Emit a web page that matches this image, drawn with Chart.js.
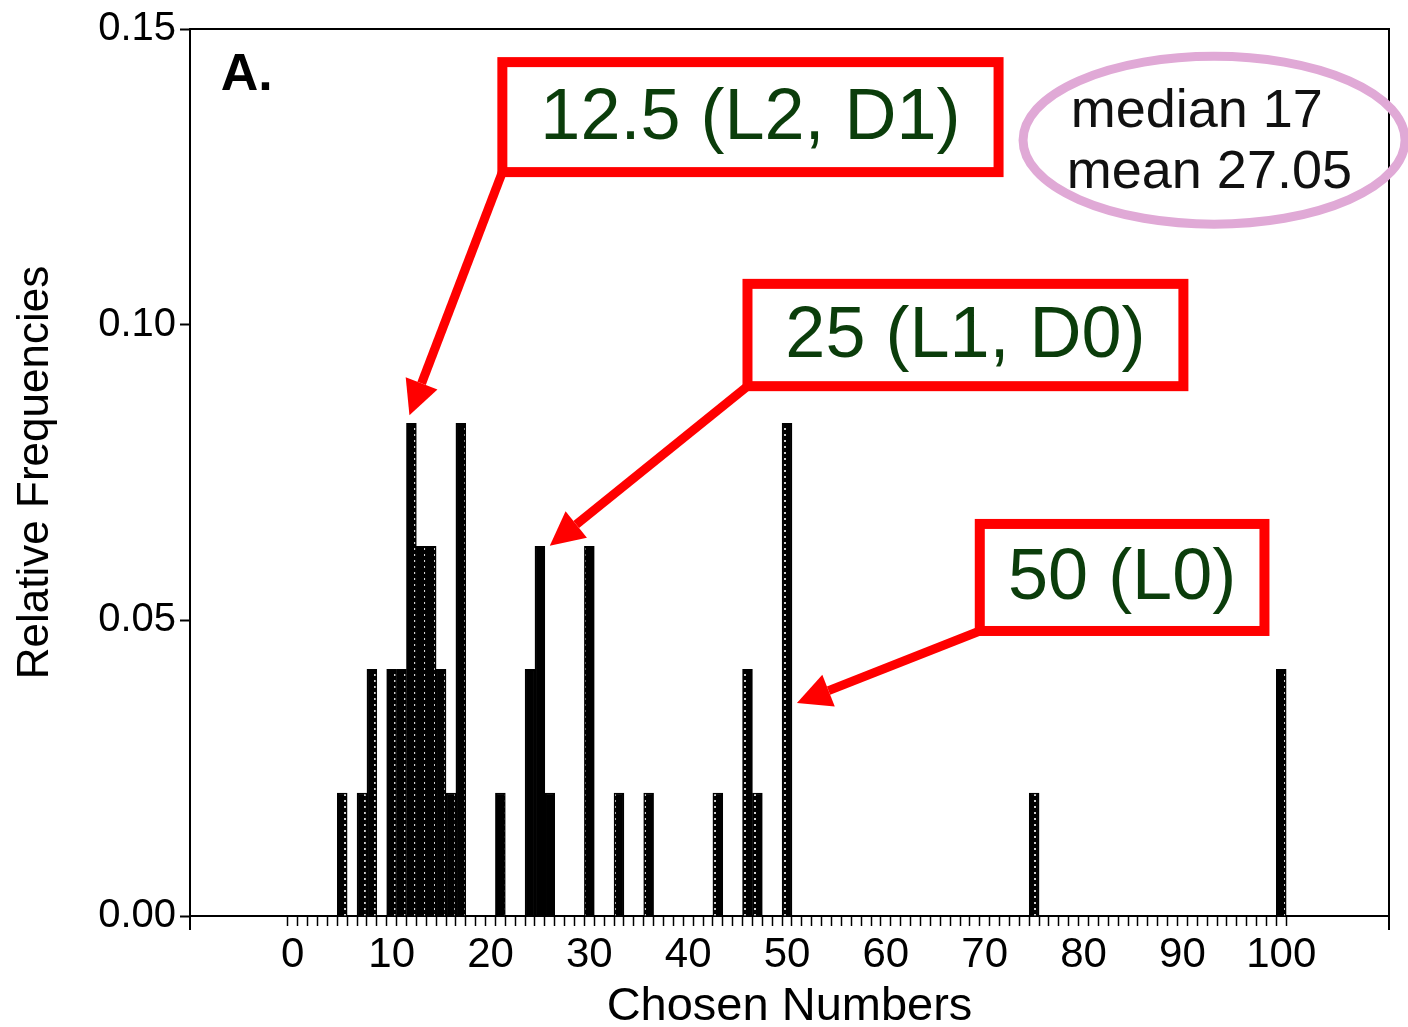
<!DOCTYPE html>
<html>
<head>
<meta charset="utf-8">
<script src="https://cdn.jsdelivr.net/npm/chart.js@4.4.1/dist/chart.umd.min.js"></script>
<style>
  html, body { margin: 0; padding: 0; background: #fff; }
  canvas { display: block; }
</style>
</head>
<body>
<canvas id="myChart" width="1408" height="1027"></canvas>
<script>
// histogram data (relative frequency per chosen number, N = 48)
const chosenNumbers = [5, 7, 8, 10, 11, 12, 13, 14, 15, 16, 17, 21, 24, 25, 26, 30, 33, 36, 43, 46, 47, 50, 75, 100];
const relativeFrequencies = [
  0.0208, 0.0208, 0.0417, 0.0417, 0.0417, 0.0833, 0.0625, 0.0625, 0.0417, 0.0208, 0.0833,
  0.0208, 0.0417, 0.0625, 0.0208, 0.0625, 0.0208, 0.0208,
  0.0208, 0.0417, 0.0208, 0.0833,
  0.0208, 0.0417
];
const xTickLabels = [0, 10, 20, 30, 40, 50, 60, 70, 80, 90, 100];
const yTickLabels = [0, 0.05, 0.1, 0.15];

const statsLines = ["median 17", "mean 27.05"];
const callouts = [
  { text: "12.5 (L2, D1)", box: [21.2, 0.1444, 71.4, 0.1258], tip: [11.8, 0.0847] },
  { text: "25 (L1, D0)", box: [46.0, 0.1069, 90.1, 0.0896], tip: [26.0, 0.0626] },
  { text: "50 (L0)", box: [69.5, 0.0663, 98.3, 0.0482], tip: [51.0, 0.036] }
];

const FONT = "'Liberation Sans', Arial, Helvetica, sans-serif";

// stippled black fill like the scanned bars
function makePattern() {
  const c = document.createElement("canvas");
  c.width = 10;
  c.height = 6;
  const g = c.getContext("2d");
  g.fillStyle = "#000";
  g.fillRect(0, 0, 10, 6);
  g.fillStyle = "#cfcfcf";
  g.fillRect(4, 2, 2, 2);
  return g.createPattern(c, "repeat");
}

function arrow(ctx, x0, y0, x1, y1) {
  const ang = Math.atan2(y1 - y0, x1 - x0);
  const headLen = 34, headW = 17;
  const bx = x1 - headLen * Math.cos(ang);
  const by = y1 - headLen * Math.sin(ang);
  ctx.beginPath();
  ctx.moveTo(x0, y0);
  ctx.lineTo(bx, by);
  ctx.stroke();
  ctx.beginPath();
  ctx.moveTo(x1, y1);
  ctx.lineTo(bx + headW * Math.sin(ang), by - headW * Math.cos(ang));
  ctx.lineTo(bx - headW * Math.sin(ang), by + headW * Math.cos(ang));
  ctx.closePath();
  ctx.fill();
}

const frameAndNotes = {
  id: "frameAndNotes",
  afterDraw(chart) {
    const ctx = chart.ctx;
    const a = chart.chartArea;
    const xs = chart.scales.x;
    const ys = chart.scales.y;
    const px = v => xs.getPixelForValue(v);
    const py = v => ys.getPixelForValue(v);

    ctx.save();
    // top and right frame, axis end stubs
    ctx.strokeStyle = "#000";
    ctx.lineWidth = 2;
    ctx.beginPath();
    ctx.moveTo(a.left, a.top);
    ctx.lineTo(a.right, a.top);
    ctx.lineTo(a.right, a.bottom + 14);
    ctx.moveTo(a.left, a.bottom);
    ctx.lineTo(a.left, a.bottom + 14);
    ctx.stroke();

    // panel letter
    ctx.fillStyle = "#000";
    ctx.font = "bold 52px " + FONT;
    ctx.textAlign = "left";
    ctx.textBaseline = "alphabetic";
    ctx.fillText("A.", px(-7.3), py(0.1397));

    // median / mean ellipse
    ctx.strokeStyle = "#e0a9d6";
    ctx.lineWidth = 9;
    ctx.beginPath();
    ctx.ellipse(px(93.2), py(0.1312), 191, 84, 0, 0, Math.PI * 2);
    ctx.stroke();
    ctx.fillStyle = "#111";
    ctx.font = "54px " + FONT;
    ctx.fillText(statsLines[0], px(78.7), py(0.1334));
    ctx.fillText(statsLines[1], px(78.3), py(0.1231));

    // red callouts
    callouts.forEach(c => {
      const x0 = px(c.box[0]), y0 = py(c.box[1]);
      const x1 = px(c.box[2]), y1 = py(c.box[3]);
      ctx.strokeStyle = "#ff0000";
      ctx.fillStyle = "#ff0000";
      ctx.lineWidth = 10;
      ctx.strokeRect(x0, y0, x1 - x0, y1 - y0);
      ctx.lineWidth = 9;
      arrow(ctx, x0, y1, px(c.tip[0]), py(c.tip[1]));
      ctx.fillStyle = "#0b3d0b";
      ctx.font = "72px " + FONT;
      ctx.textAlign = "center";
      ctx.textBaseline = "middle";
      ctx.fillText(c.text, (x0 + x1) / 2, (y0 + y1) / 2 + 2);
      ctx.textAlign = "left";
      ctx.textBaseline = "alphabetic";
    });
    ctx.restore();
  }
};

const ctx = document.getElementById("myChart").getContext("2d");
const myChart = new Chart(ctx, {
  type: "bar",
  data: {
    datasets: [
      {
        data: chosenNumbers.map((n, i) => ({ x: n, y: relativeFrequencies[i] })),
        backgroundColor: makePattern(),
        borderColor: "#000",
        borderWidth: 1.5,
        barPercentage: 1,
        categoryPercentage: 1,
      },
    ],
  },
  options: {
    responsive: false,
    animation: false,
    layout: { padding: { top: 29, right: 19, left: 0, bottom: 0 } },
    plugins: { legend: { display: false }, tooltip: { enabled: false } },
    scales: {
      x: {
        type: "linear",
        offset: false,
        min: -10.4,
        max: 110.9,
        afterBuildTicks: (scale) => {
          const t = [];
          for (let v = 0; v <= 100; v++) t.push({ value: v });
          scale.ticks = t;
        },
        afterFit: (scale) => { scale.height = 111; },
        ticks: {
          autoSkip: false,
          maxRotation: 0,
          padding: 4,
          color: "#000",
          font: { family: FONT, size: 42 },
          callback: (v) => (xTickLabels.includes(v) ? String(v) : ""),
        },
        grid: { drawOnChartArea: false, drawTicks: true, tickLength: 10, tickColor: "#000", tickWidth: 1.5 },
        border: { color: "#000", width: 2 },
        title: {
          display: true,
          text: "Chosen Numbers",
          color: "#000",
          font: { family: FONT, size: 47, lineHeight: 1 },
          padding: { top: 0, bottom: -4 },
        },
      },
      y: {
        min: 0,
        max: 0.15,
        afterBuildTicks: (scale) => {
          scale.ticks = yTickLabels.map((v) => ({ value: v }));
        },
        afterFit: (scale) => { scale.width = 190; },
        ticks: {
          padding: 4,
          color: "#000",
          font: { family: FONT, size: 40 },
          callback: (v) => Number(v).toFixed(2),
        },
        grid: { drawOnChartArea: false, drawTicks: true, tickLength: 10, tickColor: "#000", tickWidth: 2 },
        border: { color: "#000", width: 2 },
        title: {
          display: true,
          text: "Relative Frequencies",
          color: "#000",
          font: { family: FONT, size: 44, lineHeight: 1 },
          padding: { top: 14, bottom: 0 },
        },
      },
    },
  },
  plugins: [frameAndNotes],
});
</script>
</body>
</html>
